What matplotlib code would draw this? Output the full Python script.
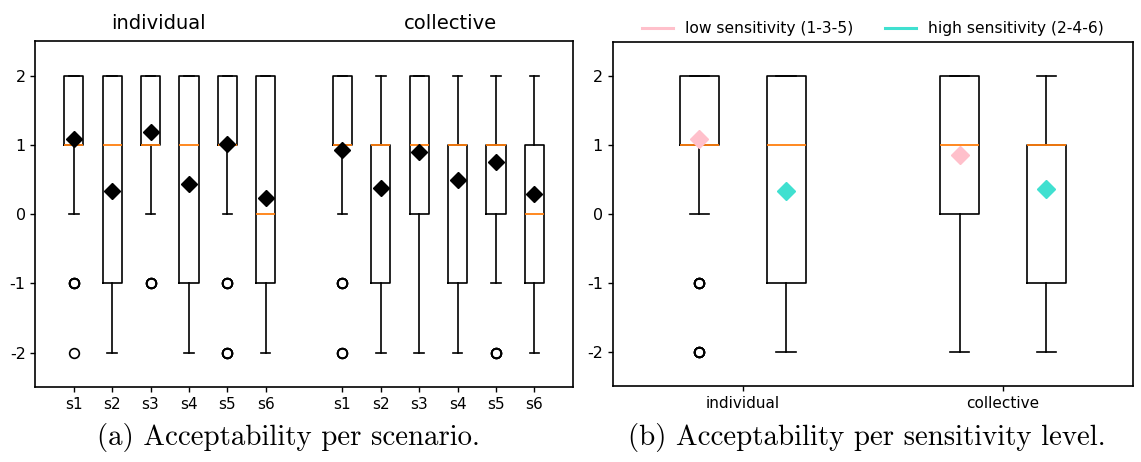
import matplotlib
matplotlib.use("Agg")
import matplotlib.pyplot as plt
from matplotlib.lines import Line2D

# Acceptability scores (-2 .. 2) per scenario, summarised as box statistics
scenarios = ["s1", "s2", "s3", "s4", "s5", "s6"]
groups = ["individual", "collective"]

ind_q1 = [1, -1, 1, -1, 1, -1]
ind_med = [1, 1, 1, 1, 1, 0]
ind_q3 = [2, 2, 2, 2, 2, 2]
ind_lo = [0, -2, 0, -2, 0, -2]
ind_hi = [2, 2, 2, 2, 2, 2]
ind_mean = [1.09, 0.34, 1.18, 0.43, 1.02, 0.23]
ind_fliers = [[-1] * 4 + [-2], [], [-1] * 4, [], [-1] * 4 + [-2] * 4, []]

col_q1 = [1, -1, 0, -1, 0, -1]
col_med = [1, 1, 1, 1, 1, 0]
col_q3 = [2, 1, 2, 1, 1, 1]
col_lo = [0, -2, -2, -2, -1, -2]
col_hi = [2, 2, 2, 2, 2, 2]
col_mean = [0.93, 0.38, 0.90, 0.50, 0.75, 0.29]
col_fliers = [[-1] * 4 + [-2] * 3, [], [], [], [-2] * 4, []]

# Pooled by sensitivity level: low = s1/s3/s5, high = s2/s4/s6
sens_labels = ["low sensitivity (1-3-5)", "high sensitivity (2-4-6)"]
sens_colors = ["pink", "turquoise"]
low_q1 = [1, 0]
low_med = [1, 1]
low_q3 = [2, 2]
low_lo = [0, -2]
low_hi = [2, 2]
low_mean = [1.09, 0.86]
low_fliers = [[-1] * 5 + [-2] * 5, []]

high_q1 = [-1, -1]
high_med = [1, 1]
high_q3 = [2, 1]
high_lo = [-2, -2]
high_hi = [2, 2]
high_mean = [0.33, 0.37]
high_fliers = [[], []]


def make_stats(q1, med, q3, lo, hi, mean, fliers):
    return [
        {"q1": a, "med": m, "q3": b, "whislo": l, "whishi": h, "mean": mu, "fliers": f}
        for a, m, b, l, h, mu, f in zip(q1, med, q3, lo, hi, mean, fliers)
    ]


plt.rcParams["lines.linewidth"] = 1.2
plt.rcParams["axes.linewidth"] = 1.2
plt.rcParams["boxplot.boxprops.linewidth"] = 1.2
plt.rcParams["boxplot.whiskerprops.linewidth"] = 1.2
plt.rcParams["boxplot.capprops.linewidth"] = 1.2
plt.rcParams["boxplot.medianprops.linewidth"] = 1.3
plt.rcParams["xtick.major.width"] = 1.0
plt.rcParams["ytick.major.width"] = 1.0

fig = plt.figure(figsize=(11.41, 4.62), dpi=100)
ax_a = fig.add_axes([0.031, 0.162, 0.471, 0.749])
ax_b = fig.add_axes([0.537, 0.164, 0.456, 0.745])

flier_style = dict(marker="o", markerfacecolor="none", markeredgecolor="black",
                   markersize=7, markeredgewidth=1.2)

# (a) one box per scenario, individual then collective
pos_ind = [1, 2, 3, 4, 5, 6]
pos_col = [8, 9, 10, 11, 12, 13]
for pos, stats in [
    (pos_ind, make_stats(ind_q1, ind_med, ind_q3, ind_lo, ind_hi, ind_mean, ind_fliers)),
    (pos_col, make_stats(col_q1, col_med, col_q3, col_lo, col_hi, col_mean, col_fliers)),
]:
    ax_a.bxp(stats, positions=pos, widths=0.5, showmeans=True,
             meanprops=dict(marker="D", markerfacecolor="black",
                            markeredgecolor="black", markersize=8),
             flierprops=flier_style)

ax_a.set_xlim(0, 14)
ax_a.set_ylim(-2.5, 2.5)
ax_a.set_xticks(pos_ind + pos_col)
ax_a.set_xticklabels(scenarios + scenarios, fontsize=11)
ax_a.set_yticks([-2, -1, 0, 1, 2])
ax_a.set_yticklabels(["-2", "-1", "0", "1", "2"], fontsize=11.5)
ax_a.text(3.2, 2.62, groups[0], ha="center", va="bottom", fontsize=14)
ax_a.text(10.8, 2.62, groups[1], ha="center", va="bottom", fontsize=14)

# (b) low vs high sensitivity for each group
pos_low = [1, 4]
pos_high = [2, 5]
for pos, stats, color in [
    (pos_low, make_stats(low_q1, low_med, low_q3, low_lo, low_hi, low_mean, low_fliers), sens_colors[0]),
    (pos_high, make_stats(high_q1, high_med, high_q3, high_lo, high_hi, high_mean, high_fliers), sens_colors[1]),
]:
    ax_b.bxp(stats, positions=pos, widths=0.45, showmeans=True,
             meanprops=dict(marker="D", markerfacecolor=color,
                            markeredgecolor=color, markersize=9),
             flierprops=flier_style)

ax_b.set_xlim(0, 6)
ax_b.set_ylim(-2.5, 2.5)
ax_b.set_xticks([1.5, 4.5])
ax_b.set_xticklabels(groups, fontsize=11)
ax_b.set_yticks([-2, -1, 0, 1, 2])
ax_b.set_yticklabels(["-2", "-1", "0", "1", "2"], fontsize=11.5)

handles = [Line2D([], [], color=c, linewidth=2.2) for c in sens_colors]
ax_b.legend(handles, sens_labels, loc="lower center", bbox_to_anchor=(0.5, 0.995),
            ncol=2, frameon=False, fontsize=11.2, handlelength=2.0,
            handletextpad=0.8, columnspacing=2.0, borderaxespad=0.1)

fig.text(0.253, 0.054, "(a) Acceptability per scenario.", ha="center", va="center",
         fontsize=20.8, family="cmr10")
fig.text(0.760, 0.054, "(b) Acceptability per sensitivity level.", ha="center", va="center",
         fontsize=20.8, family="cmr10")

fig.savefig("out.png", dpi=100)
